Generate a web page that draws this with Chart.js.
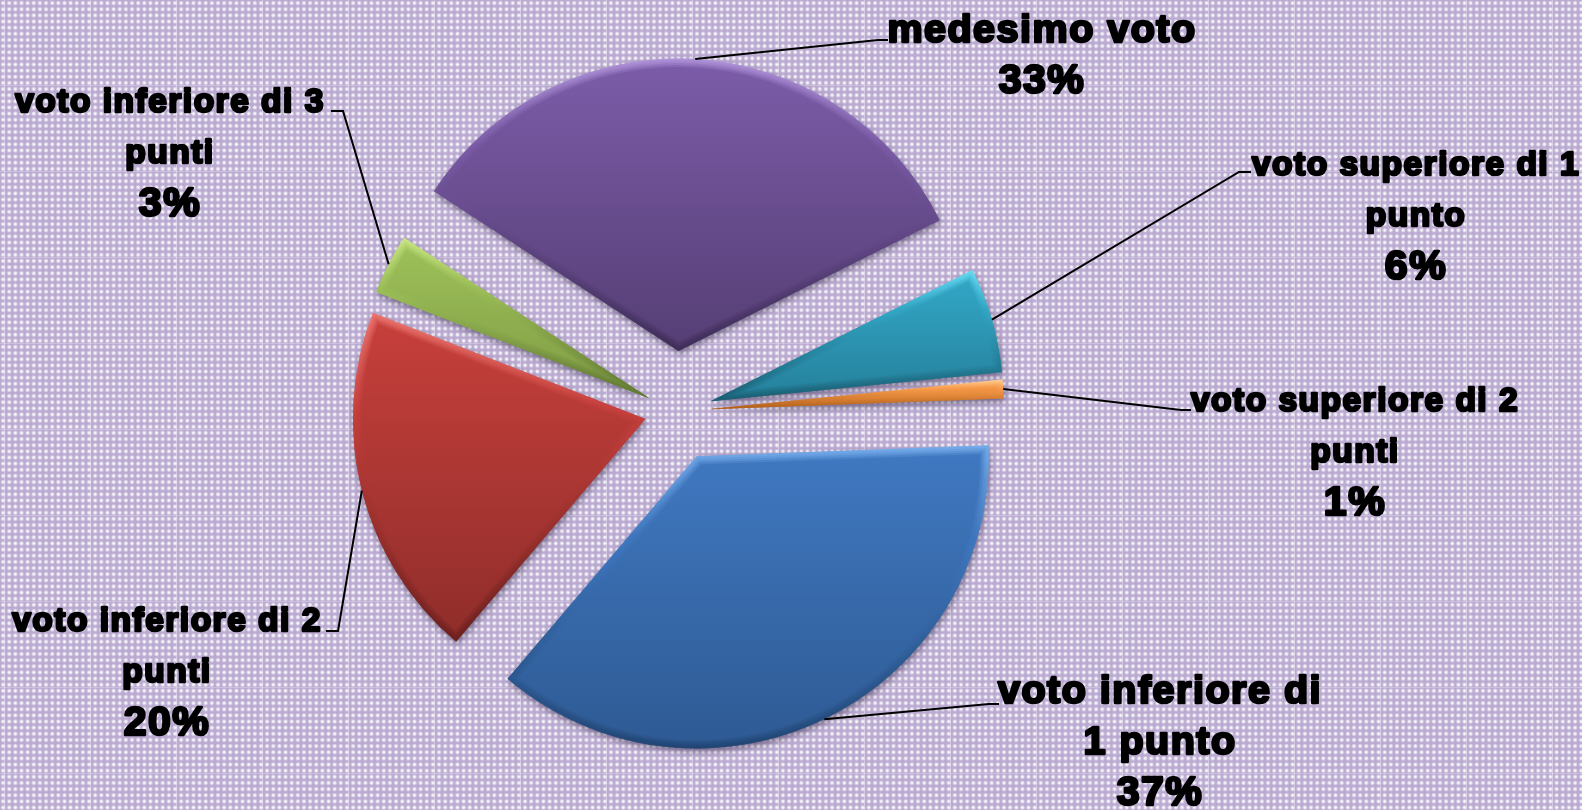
<!DOCTYPE html>
<html>
<head>
<meta charset="utf-8">
<style>
html, body { margin: 0; padding: 0; width: 1582px; height: 810px; overflow: hidden; }
body {
    background-color: #baaad1;
    background-image:
        linear-gradient(to right, rgba(255,255,255,.35) 1px, transparent 1px),
        linear-gradient(to bottom, rgba(255,255,255,.25) 1px, transparent 1px),
        radial-gradient(circle at 50% 50%, #fff 0, rgba(255,255,255,.8) 1px, rgba(255,255,255,.2) 2.2px, transparent 2.8px);
    background-size: 86px 86px, 86px 86px, 6.143px 6.143px;
    background-position: 4px -1px, 4px -1px, 0 0;
}
#chart { display: block; }
</style>
</head>
<body>
<canvas id="chart" width="1582" height="810"></canvas>
<script src="https://cdn.jsdelivr.net/npm/chart.js@4"></script>
<script>
const categories = ["voto superiore di 1 punto", "voto superiore di 2 punti", "voto inferiore di 1 punto",
    "voto inferiore di 2 punti", "voto inferiore di 3 punti", "medesimo voto"];
const values = [5.8, 1, 36.8, 19.7, 3.3, 33.4];
const percentLabels = ["6%", "1%", "37%", "20%", "3%", "33%"];
const labelLines = [
    ["voto superiore di 1", "punto"],
    ["voto superiore di 2", "punti"],
    ["voto inferiore di", "1 punto"],
    ["voto inferiore di 2", "punti"],
    ["voto inferiore di 3", "punti"],
    ["medesimo voto"]
];

// slice looks
const topColors = ["#33a9c9", "#fa9d4e", "#4079c2", "#c8403c", "#9fc25a", "#7c5ca9"];
const bottomColors = ["#25809b", "#d97a28", "#2e5a93", "#8f2d2a", "#7f9c44", "#553e74"];
const bevelTop = ["#6fe2f8", "#ffd49a", "#7ab0ee", "#ee7a75", "#cdea88", "#b397dd"];
const bevelBottom = ["#185a6e", "#a85a14", "#1f4370", "#661e1c", "#5c722e", "#3b2a54"];
const explode = [38, 37, 50, 31, 30, 61];

// soft bevel: inner strokes, wide and faint first
const bevelPasses = [[8, 0.25], [6, 0.35], [4, 0.45], [2, 0.5]];

// text centre x, first line y, text sizes and leader bend + end
const labelSpots = [
    { x: 1416, y: 166, size: 33.5, pct: 41, leader: [[1239, 172], [1251, 172]] },
    { x: 1355, y: 402, size: 33.5, pct: 41, leader: [[1181, 410], [1191, 410]] },
    { x: 1160, y: 692, size: 39.5, pct: 41, leader: [[989, 704], [999, 704]] },
    { x: 167, y: 622, size: 33.5, pct: 41, leader: [[338, 631], [326, 631]] },
    { x: 170, y: 103, size: 33.5, pct: 41, leader: [[343, 111], [331, 111]] },
    { x: 1042, y: 31, size: 39.5, pct: 41, leader: [[878, 40], [888, 40]] }
];

const explodeSlices = {
    id: "explodeSlices",
    afterDatasetsUpdate(chart) {
        const g = chart.ctx;
        chart.getDatasetMeta(0).data.forEach((arc, i) => {
            const mid = (arc.startAngle + arc.endAngle) / 2;
            arc.x += Math.cos(mid) * explode[i];
            arc.y += Math.sin(mid) * explode[i];

            // vertical extent of the slice, for its gradient
            let top = arc.y, bottom = arc.y;
            for (let k = 0; k <= 24; k++) {
                const y = arc.y + Math.sin(arc.startAngle + (arc.endAngle - arc.startAngle) * k / 24) * arc.outerRadius;
                top = Math.min(top, y);
                bottom = Math.max(bottom, y);
            }
            const fill = g.createLinearGradient(0, top, 0, bottom);
            fill.addColorStop(0, topColors[i]);
            fill.addColorStop(1, bottomColors[i]);
            const edge = g.createLinearGradient(0, top, 0, bottom);
            edge.addColorStop(0, bevelTop[i]);
            edge.addColorStop(0.3, topColors[i]);
            edge.addColorStop(1, bevelBottom[i]);
            arc.options = { ...arc.options, backgroundColor: fill, borderWidth: 0 };
            arc.$bevel = edge;
        });
    },
    beforeDatasetDraw(chart) {
        const g = chart.ctx;
        g.save();
        g.shadowColor = "rgba(40,30,60,.55)";
        g.shadowBlur = 7;
        g.shadowOffsetX = 1;
        g.shadowOffsetY = 3;
    },
    afterDatasetDraw(chart) {
        const g = chart.ctx;
        g.restore();
        chart.getDatasetMeta(0).data.forEach(arc => {
            const base = arc.options;
            bevelPasses.forEach(([width, alpha]) => {
                arc.options = { ...base, backgroundColor: "transparent", borderColor: arc.$bevel, borderWidth: width };
                g.save();
                g.globalAlpha = alpha;
                arc.draw(g);
                g.restore();
            });
            arc.options = base;
        });
    }
};

const sliceLabels = {
    id: "sliceLabels",
    afterDraw(chart) {
        const g = chart.ctx;
        chart.getDatasetMeta(0).data.forEach((arc, i) => {
            const spot = labelSpots[i];
            const mid = (arc.startAngle + arc.endAngle) / 2;
            g.save();
            g.strokeStyle = "#000";
            g.lineWidth = 2;
            g.beginPath();
            g.moveTo(arc.x + Math.cos(mid) * arc.outerRadius, arc.y + Math.sin(mid) * arc.outerRadius);
            spot.leader.forEach(p => g.lineTo(p[0], p[1]));
            g.stroke();

            g.fillStyle = "#000";
            g.lineWidth = 2.6;
            g.lineJoin = "round";
            g.textAlign = "center";
            g.textBaseline = "middle";
            g.letterSpacing = "1.5px";
            const lines = labelLines[i].concat(percentLabels[i]);
            lines.forEach((line, n) => {
                g.font = "bold " + (n === lines.length - 1 ? spot.pct : spot.size) + "px 'Liberation Sans'";
                g.fillText(line, spot.x, spot.y + n * 51);
                g.strokeText(line, spot.x, spot.y + n * 51);
            });
            g.restore();
        });
    }
};

new Chart(document.getElementById("chart"), {
    type: "pie",
    data: {
        labels: categories,
        datasets: [{
            data: values,
            borderWidth: 0,
            borderAlign: "inner",
            borderJoinStyle: "miter",
            backgroundColor: topColors
        }]
    },
    options: {
        responsive: false,
        animation: false,
        rotation: 63.4,
        radius: 292,
        layout: { padding: { right: 232, top: 13 } },
        plugins: { legend: { display: false }, tooltip: { enabled: false } }
    },
    plugins: [explodeSlices, sliceLabels]
});
</script>
</body>
</html>
